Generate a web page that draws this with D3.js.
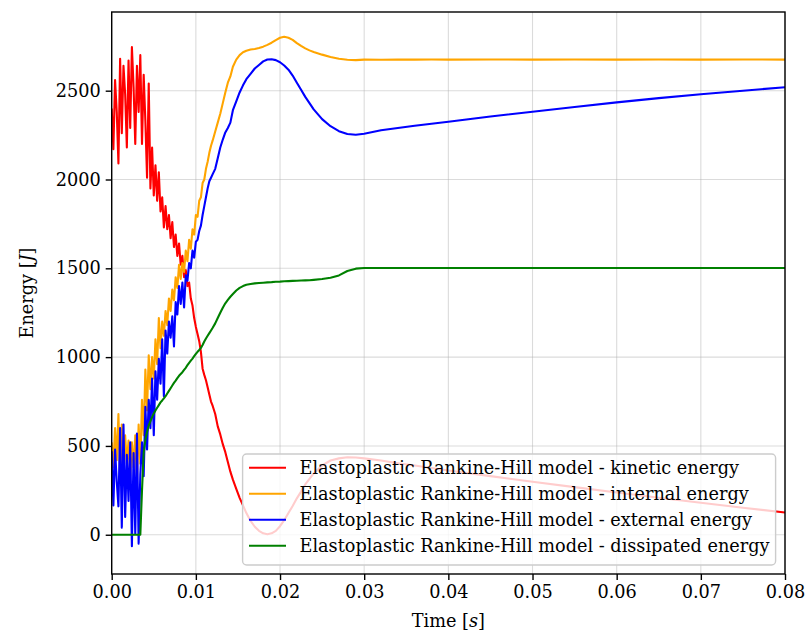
<!DOCTYPE html>
<html><head><meta charset="utf-8">
<script src="https://cdn.jsdelivr.net/npm/d3@7"></script>
<style>
body{margin:0;background:#fff}
svg{display:block}
text{font-family:"DejaVu Serif",serif}
</style>
</head><body>
<svg id="chart" width="810" height="633"></svg>
<script>
// ---------- data ----------
const tEarly = [0.0000,0.0002,0.0004,0.0006,0.0008,0.0010,0.0012,0.0014,0.0016,0.0018,
  0.0020,0.0022,0.0024,0.0026,0.0028,0.0030,0.0032,0.0034,0.0036,0.0038,
  0.0040,0.0042,0.0044,0.0046,0.0048,0.0050,0.0052,0.0054,0.0056,0.0058,
  0.0060,0.0062,0.0064,0.0066,0.0068,0.0070,0.0072,0.0074,0.0076,0.0078,
  0.0080,0.0082,0.0084,0.0086,0.0088,0.0090,0.0092,0.0094,0.0096,0.0098,
  0.0100,0.0102,0.0104,0.0106,0.0108,0.0110,0.0112,0.0114,0.0116,0.0118];
const tLate = [0.0120,0.0123,0.0126,0.0129,0.0132,0.0135,0.0138,0.0141,0.0144,0.0148,
  0.0152,0.0156,0.0160,0.0165,0.0170,0.0175,0.0180,0.0185,0.0190,0.0195,
  0.0200,0.0205,0.0210,0.0215,0.0220,0.0225,0.0230,0.0235,0.0240,0.0250,
  0.0260,0.0270,0.0280,0.0290,0.0300,0.0320,0.0340,0.0360,0.0380,0.0400,
  0.0450,0.0500,0.0550,0.0600,0.0650,0.0700,0.0750,0.0800];

const kineticEarly = [2400,2170,2560,2380,2090,2680,2260,2640,2480,2180,
  2670,2290,2745,2520,2200,2640,2380,2700,2200,2590,
  2330,2010,2540,1950,2180,1910,2080,1880,2040,1820,
  1900,1730,1850,1720,1800,1670,1760,1620,1690,1570,
  1640,1520,1570,1450,1490,1400,1420,1330,1290,1220,
  1170,1130,1090,1030,935,900,870,830,790,750];
const kineticLate = [725,680,610,565,510,465,410,355,310,258,
  208,165,122,78,45,22,8,3,8,22,
  48,82,122,162,205,243,283,315,345,390,
  418,430,436,435,430,418,403,390,376,362,
  330,298,268,238,208,180,152,125];

const internalEarly = [520,380,600,420,680,300,620,350,560,400,
  530,330,520,380,560,300,620,400,760,560,
  930,700,1010,820,1000,880,1100,960,1220,1050,
  1200,1120,1260,1180,1330,1260,1380,1320,1450,1390,
  1520,1440,1530,1480,1600,1540,1660,1610,1720,1690,
  1800,1790,1880,1900,1980,2000,2060,2100,2150,2190];
const internalLate = [2220,2270,2320,2370,2430,2490,2545,2580,2635,2675,
  2700,2716,2725,2732,2735,2740,2748,2758,2770,2785,
  2798,2804,2798,2786,2768,2752,2738,2727,2718,2703,
  2690,2680,2674,2672,2675,2674,2676,2675,2676,2675,
  2676,2675,2676,2675,2676,2675,2676,2675];

const externalEarly = [470,165,480,300,160,600,40,620,100,450,
  190,520,-65,460,5,570,-50,340,520,330,
  720,480,760,600,880,560,920,760,990,850,
  1100,780,1150,1020,1200,1110,1230,1060,1310,1240,
  1400,1300,1420,1280,1460,1430,1530,1500,1600,1560,
  1650,1660,1710,1740,1800,1850,1900,1950,1990,2010];
const externalLate = [2030,2060,2120,2180,2225,2265,2290,2320,2390,2440,
  2490,2530,2565,2595,2625,2645,2665,2676,2677,2672,
  2660,2642,2618,2585,2545,2505,2465,2430,2395,2340,
  2300,2272,2256,2252,2258,2277,2290,2303,2314,2325,
  2355,2381,2408,2434,2458,2480,2500,2519];

const dissipatedEarly = [0,0,0,0,0,0,0,0,0,0,
  0,0,0,0,0,0,0,0,250,460,
  535,580,615,640,662,683,700,715,730,745,
  756,768,780,795,810,825,840,855,868,882,
  895,905,915,928,940,955,968,980,992,1005,
  1018,1030,1040,1052,1068,1088,1105,1120,1135,1150];
const dissipatedLate = [1165,1190,1220,1250,1278,1303,1322,1340,1355,1375,
  1390,1400,1407,1412,1415,1417,1419,1421,1422,1424,
  1425,1427,1428,1429,1430,1431,1432,1433,1435,1440,
  1447,1460,1485,1498,1502,1502,1502,1502,1502,1502,
  1502,1502,1502,1502,1502,1502,1502,1502];

const seriesNames = [
  "Elastoplastic Rankine-Hill model - kinetic energy",
  "Elastoplastic Rankine-Hill model - internal energy",
  "Elastoplastic Rankine-Hill model - external energy",
  "Elastoplastic Rankine-Hill model - dissipated energy"
];
const seriesColors = ["#ff0000","#ffa500","#0000ff","#008000"];
const xTicks = [0,0.01,0.02,0.03,0.04,0.05,0.06,0.07,0.08];
const yTicks = [0,500,1000,1500,2000,2500];

// ---------- chart ----------
const time = tEarly.concat(tLate);
const seriesValues = [
  kineticEarly.concat(kineticLate),
  internalEarly.concat(internalLate),
  externalEarly.concat(externalLate),
  dissipatedEarly.concat(dissipatedLate)
];

const L = 111.7, R = 785, T = 12, B = 574;
const FS = 17.7;
const svg = d3.select("#chart");
const x = d3.scaleLinear().domain([0, 0.08]).range([L, R]);
const y = d3.scaleLinear().domain([-221, 2943]).range([B, T]);

svg.append("defs").append("clipPath").attr("id","clip")
  .append("rect").attr("x",L).attr("y",T).attr("width",R-L).attr("height",B-T);

// grid
const grid = svg.append("g");
grid.selectAll(".gx").data(xTicks).join("line")
  .attr("x1",d=>x(d)).attr("x2",d=>x(d)).attr("y1",T).attr("y2",B)
  .attr("stroke","#b0b0b0").attr("stroke-opacity",0.45).attr("stroke-width",1.1);
grid.selectAll(".gy").data(yTicks).join("line")
  .attr("x1",L).attr("x2",R).attr("y1",d=>y(d)).attr("y2",d=>y(d))
  .attr("stroke","#b0b0b0").attr("stroke-opacity",0.45).attr("stroke-width",1.1);

// lines
const line = d3.line().x((d,i)=>x(time[i])).y(d=>y(d));
const lines = svg.append("g").attr("clip-path","url(#clip)");
seriesValues.forEach((vals,k)=>{
  lines.append("path").datum(vals).attr("d",line)
    .attr("fill","none").attr("stroke",seriesColors[k])
    .attr("stroke-width",2.1).attr("stroke-linejoin","round");
});

// axes
const xAxis = svg.append("g").attr("transform",`translate(0,${B})`)
  .call(d3.axisBottom(x).tickValues(xTicks).tickFormat(d3.format(".2f")).tickSize(6).tickSizeOuter(0).tickPadding(5));
const yAxis = svg.append("g").attr("transform",`translate(${L},0)`)
  .call(d3.axisLeft(y).tickValues(yTicks).tickFormat(d3.format("d")).tickSize(6).tickSizeOuter(0).tickPadding(5));
[xAxis,yAxis].forEach(a=>{
  a.selectAll("text").attr("font-family","DejaVu Serif").attr("font-size",FS).attr("fill","#000");
  a.selectAll("line").attr("stroke","#000").attr("stroke-width",1.4);
  a.select(".domain").remove();
});
// spines
svg.append("rect").attr("x",L).attr("y",T).attr("width",R-L).attr("height",B-T)
  .attr("fill","none").attr("stroke","#000").attr("stroke-width",1.4);

// axis labels
const xl = svg.append("text").attr("x",(L+R)/2).attr("y",627)
  .attr("text-anchor","middle").attr("font-size",FS);
xl.append("tspan").text("Time [");
xl.append("tspan").attr("font-style","italic").text("s");
xl.append("tspan").text("]");
const yl = svg.append("text").attr("transform",`translate(33,${(T+B)/2}) rotate(-90)`)
  .attr("text-anchor","middle").attr("font-size",FS);
yl.append("tspan").text("Energy [");
yl.append("tspan").attr("font-style","italic").text("J");
yl.append("tspan").text("]");

// legend
const lg = svg.append("g");
const lgX = 242.6, lgY = 454, lgW = 533, lgH = 111;
lg.append("rect").attr("x",lgX).attr("y",lgY).attr("width",lgW).attr("height",lgH)
  .attr("rx",4).attr("fill","#fff").attr("fill-opacity",0.8)
  .attr("stroke","#cccccc").attr("stroke-width",1.4);
seriesNames.forEach((name,k)=>{
  const cy = 467.7 + k*26;
  lg.append("line").attr("x1",249).attr("x2",286).attr("y1",cy).attr("y2",cy)
    .attr("stroke",seriesColors[k]).attr("stroke-width",2.1);
  lg.append("text").attr("x",299.5).attr("y",cy).attr("dy","0.35em")
    .attr("font-size",FS).text(name);
});
</script>
</body></html>
